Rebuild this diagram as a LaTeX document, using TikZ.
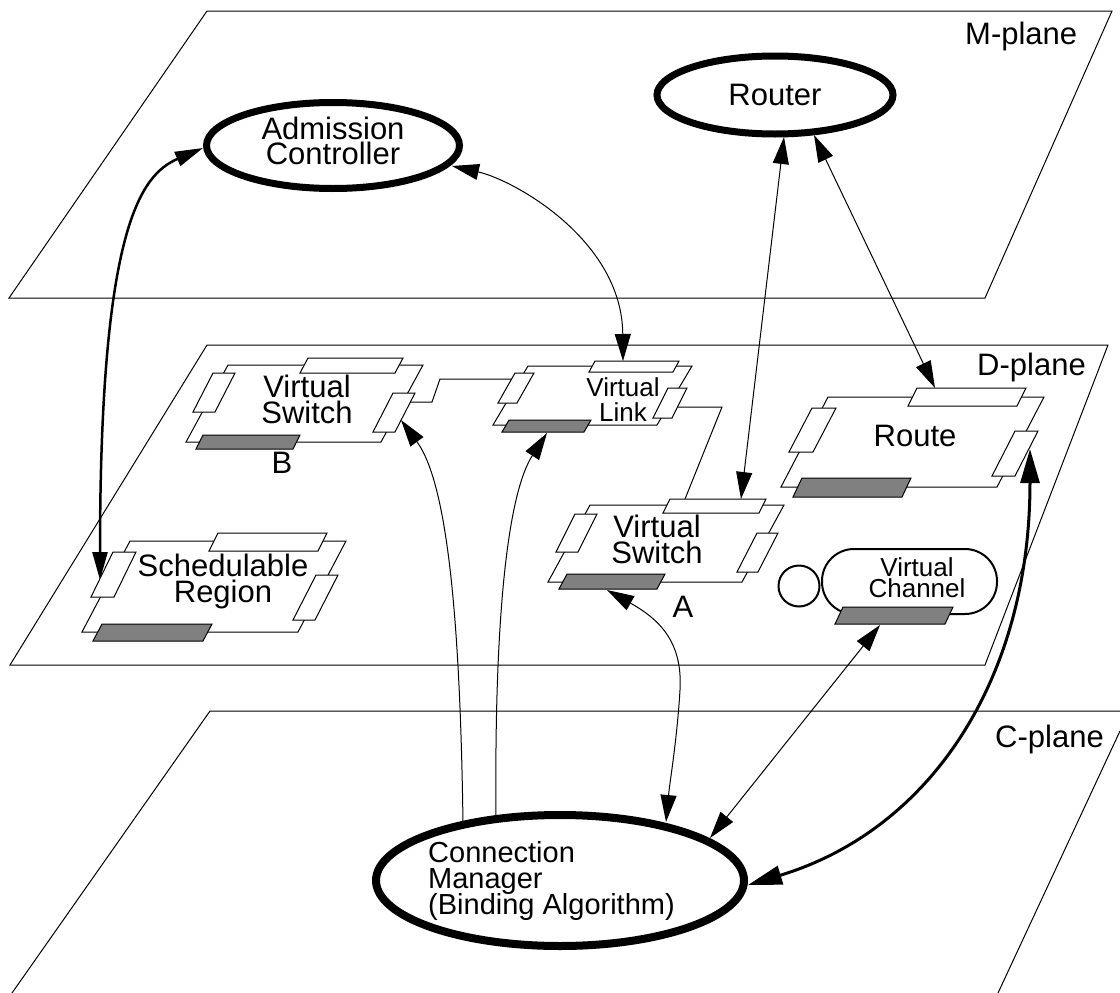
\documentclass[tikz,border=0pt]{standalone}
\usepackage{fontspec}
\setmainfont{Liberation Sans}
\usetikzlibrary{arrows.meta,shapes.geometric}
\definecolor{bargray}{RGB}{128,128,128}
\lineskiplimit=-60pt
\lineskip=0pt
% parallelogram: [style] x, y-bottom, width, height, skew
\newcommand\pgram[6][]{\draw[#1] (#2,#3) -- ++(#4,0) -- ++(#6,-#5) -- ++(-#4,0) -- cycle;}
\begin{document}
\begin{tikzpicture}[x=1pt,y=-1pt,
  plane/.style={line width=1pt},
  comp/.style={draw,line width=1pt,fill=white},
  port/.style={draw,line width=1pt,fill=white},
  bar/.style={draw,line width=1pt,fill=bargray},
  big/.style={font={\fontsize{31}{26}\selectfont},align=center,inner sep=0pt},
  small/.style={font={\fontsize{26}{25}\selectfont},align=center,inner sep=0pt},
  lbl/.style={font={\fontsize{31}{26}\selectfont},inner sep=0pt,anchor=base},
  mgr/.style={draw,ellipse,line width=7pt,fill=white,inner sep=0pt},
  link/.style={line width=1pt},
  bi/.style={line width=1pt,{Triangle[length=27pt,width=16pt]}-{Triangle[length=27pt,width=16pt]}},
  uni/.style={line width=1pt,-{Triangle[length=27pt,width=16pt]}},
  thickbi/.style={line width=2.5pt,{Triangle[length=28pt,width=15pt]}-{Triangle[length=28pt,width=15pt]}},
  thickerbi/.style={line width=3pt,{Triangle[length=34pt,width=19pt]}-{Triangle[length=34pt,width=19pt]}}
]
\useasboundingbox (0,0) rectangle (1120,993);

% planes
\draw[plane] (207,11) -- (1112,11) -- (985,298) -- (9,298) -- cycle;
\draw[plane] (207,345) -- (1108,345) -- (985,665) -- (10,665) -- cycle;
\draw[plane] (12,993) -- (210,711) -- (1120,711);
\draw[plane] (1120,731) -- (998,993);
\node[lbl,anchor=base west] (mplane) at (965,45) {M-plane};
\node[lbl,anchor=base west] (dplane) at (977,375) {D-plane};
\node[lbl,anchor=base west] (cplane) at (995,747) {C-plane};

% connection points
\coordinate (acL) at (203,148);
\coordinate (srL) at (100,580);
\coordinate (acR) at (452,166);
\coordinate (vlT) at (623,361);
\coordinate (rtA) at (784,137);
\coordinate (vsaT) at (741,499);
\coordinate (rtB) at (814,135);
\coordinate (routeT) at (935,388);
\coordinate (cmA) at (463,824);
\coordinate (vsbR) at (401,420);
\coordinate (cmB) at (496,818);
\coordinate (vlG) at (547,433);
\coordinate (vsaG) at (607,590);
\coordinate (cmC) at (666,822);
\coordinate (vcG) at (880,625);
\coordinate (cmD) at (710,838);
\coordinate (routeR) at (1030,449);
\coordinate (cmR) at (748,885);
\coordinate (vsbRp) at (410,402);
\coordinate (vlLp) at (512,379);
\coordinate (vlRp) at (677.5,407);
\coordinate (vsaTp) at (685,499);

% thin links between D-plane objects
\draw[link] (vsbRp) -- (432,402) -- (440,379) -- (vlLp);
\draw[link] (vlRp) -- (722,407) -- (vsaTp);

% arrows
\draw[thickbi] (acL) .. controls (140,175) and (100,230) .. (srL);
\draw[bi] (acR) .. controls (514,180) and (622,240) .. (vlT);
\draw[bi] (rtA) -- (vsaT);
\draw[bi] (rtB) -- (routeT);
\draw[uni] (cmA) .. controls (460,600) and (445,480) .. (vsbR);
\draw[uni] (cmB) .. controls (494,600) and (510,490) .. (vlG);
\draw[bi] (vsaG) .. controls (657,618) and (683,640) .. (680,690) .. controls (677,740) and (670,780) .. (cmC);
\draw[bi] (vcG) -- (cmD);
\draw[thickerbi] (routeR) .. controls (1030,680) and (930,830) .. (cmR);

% Virtual Switch B
\pgram[comp]{186}{442}{195}{77}{42}
\pgram[port]{300}{373}{95}{15}{8}
\pgram[port]{193}{412}{22}{39}{20}
\pgram[port]{373}{432}{22}{39}{20}
\pgram[bar]{196}{449}{97}{14}{7}
\node[big] (vsb) at (307,399) {Virtual\\Switch};
\node[lbl] (labB) at (282,473) {B};

% Virtual Link
\pgram[comp]{493}{425}{164}{59}{35}
\pgram[port]{589}{372}{84}{11}{6}
\pgram[port]{498}{403}{19}{30}{17}
\pgram[port]{653}{418}{19}{30}{15}
\pgram[bar]{502}{432}{82}{12}{7}
\node[small] (vl) at (623,400) {Virtual\\Link};

% Virtual Switch A
\pgram[comp]{548}{582}{194}{77}{42}
\pgram[port]{663}{513}{96}{14}{7}
\pgram[port]{556}{552}{22}{38}{19}
\pgram[port]{737}{572}{21}{39}{20}
\pgram[bar]{559}{589}{98}{15}{8}
\node[big] (vsa) at (657,539) {Virtual\\Switch};
\node[lbl] (labA) at (683,617) {A};

% Route
\pgram[comp]{781}{487}{216}{90}{47}
\pgram[port]{908}{406}{109}{18}{9}
\pgram[port]{789}{452}{24}{44}{23}
\pgram[port]{992}{476}{23}{45}{23}
\pgram[bar]{793}{497}{109}{19}{9}
\node[big] (route) at (915,436) {Route};

% Schedulable Region
\pgram[comp]{82}{632}{216}{91}{48}
\pgram[port]{209}{551}{109}{18}{9}
\pgram[port]{91}{597}{23}{45}{22}
\pgram[port]{293}{620}{22}{45}{23}
\pgram[bar]{93}{641}{110}{17}{9}
\node[big] (sr) at (223,581.5) {Schedulable\\Region};

% Virtual Channel
\node[draw,circle,line width=2pt,minimum size=41pt,inner sep=0pt,fill=white] (vccirc) at (799,586) {};
\node[draw,rectangle,rounded corners=32pt,line width=2pt,minimum width=175pt,minimum height=65pt,inner sep=0pt,fill=white] (vc) at (909.5,581.5) {};
\pgram[bar]{835}{624}{110}{17}{8}
\node[font={\fontsize{26}{21}\selectfont},align=center,inner sep=0pt] (vctext) at (917,578) {Virtual\\Channel};

% managers
\node[mgr,minimum width=236pt,minimum height=78pt,font={\fontsize{31}{26}\selectfont}] (router) at (775,95) {Router};
\node[mgr,minimum width=253pt,minimum height=86pt] (ac) at (333,145.5) {};
\node[font={\fontsize{31}{25}\selectfont},align=center,inner sep=0pt] (actext) at (333,140.5) {Admission\\Controller};
\node[mgr,line width=8pt,minimum width=368pt,minimum height=131pt] (cm) at (560,880.5) {};
\node[font={\fontsize{29}{26}\selectfont},align=left,inner sep=0pt,anchor=west] (cmtext) at (428,881) {Connection\\Manager\\(Binding Algorithm)};
\end{tikzpicture}
\end{document}
